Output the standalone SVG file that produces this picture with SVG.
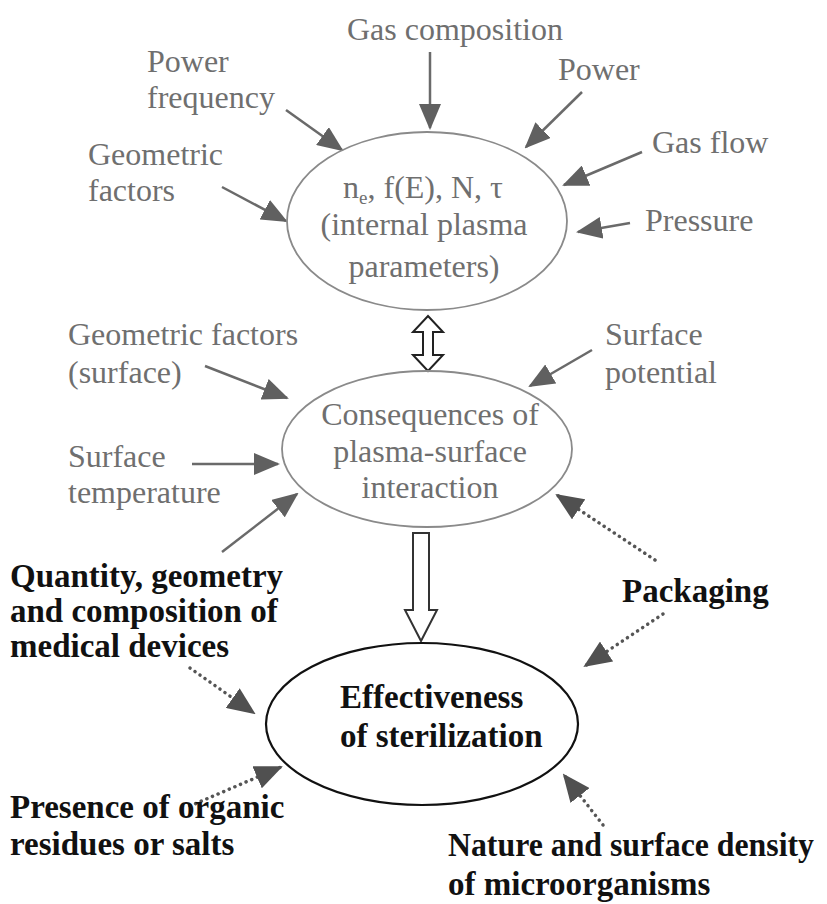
<svg xmlns="http://www.w3.org/2000/svg" width="827" height="904" viewBox="0 0 827 904">
<style>
.g{font-family:"Liberation Serif","Times New Roman",serif;font-size:32px;fill:#6f6f6f}
.b{font-family:"Liberation Serif","Times New Roman",serif;font-size:33px;font-weight:bold;fill:#111}
.ar{stroke:#6a6a6a;stroke-width:2.5;fill:none;marker-end:url(#ah)}
.dt{stroke:#555;stroke-width:3.5;fill:none;stroke-dasharray:0.1 6;stroke-linecap:round;marker-end:url(#ah2)}
</style>
<defs>
<marker id="ah" markerUnits="userSpaceOnUse" markerWidth="26" markerHeight="22" refX="24" refY="11" orient="auto"><path d="M0,0 L26,11 L0,22 Z" fill="#606060"/></marker>
<marker id="ah2" markerUnits="userSpaceOnUse" markerWidth="28" markerHeight="24" refX="26" refY="12" orient="auto"><path d="M0,0 L28,12 L0,24 Z" fill="#505050"/></marker>
</defs>
<rect width="827" height="904" fill="#fff"/>
<g id="connectors">
<line class="ar" x1="430" y1="52" x2="430" y2="128"/>
<line class="ar" x1="286" y1="110" x2="342" y2="150"/>
<line class="ar" x1="582" y1="92" x2="526" y2="147"/>
<line class="ar" x1="642" y1="152" x2="564" y2="185"/>
<line class="ar" x1="630" y1="223" x2="578" y2="232"/>
<line class="ar" x1="222" y1="187" x2="286" y2="221"/>
<line class="ar" x1="205" y1="366" x2="287" y2="398"/>
<line class="ar" x1="592" y1="350" x2="530" y2="386"/>
<line class="ar" x1="192" y1="464" x2="278" y2="464"/>
<line class="ar" x1="222" y1="552" x2="297" y2="494"/>
<line class="dt" x1="655" y1="560" x2="557" y2="495"/>
<line class="dt" x1="663" y1="614" x2="585" y2="666"/>
<line class="dt" x1="190" y1="668" x2="254" y2="713"/>
<line class="dt" x1="190" y1="806" x2="281" y2="767"/>
<line class="dt" x1="603" y1="825" x2="564" y2="775"/>
<path d="M428,316 L443,332 L433,332 L433,355 L443,355 L428,371 L413,355 L423,355 L423,332 L413,332 Z" fill="#fff" stroke="#222" stroke-width="2"/>
<path d="M413,533 L429,533 L429,610 L437,610 L421,641 L405,610 L413,610 Z" fill="#fff" stroke="#333" stroke-width="2"/>
</g>
<g id="n_top_inputs">
<text class="g" x="455" y="40" text-anchor="middle">Gas composition</text>
<text class="g" x="147" y="72">Power</text>
<text class="g" x="147" y="108">frequency</text>
<text class="g" x="558" y="80">Power</text>
<text class="g" x="652" y="153">Gas flow</text>
<text class="g" x="88" y="165">Geometric</text>
<text class="g" x="88" y="201">factors</text>
<text class="g" x="645" y="231">Pressure</text>
</g>
<g id="n_plasma">
<ellipse cx="427" cy="221" rx="140" ry="89" fill="none" stroke="#8a8a8a" stroke-width="1.8"/>
<text class="g" x="423" y="198" text-anchor="middle">n<tspan font-size="19" dy="6">e</tspan><tspan dy="-6">, f(E), N, τ</tspan></text>
<text class="g" x="424" y="235" text-anchor="middle">(internal plasma</text>
<text class="g" x="424" y="277" text-anchor="middle">parameters)</text>
</g>
<g id="n_surface_inputs">
<text class="g" x="68" y="345">Geometric factors</text>
<text class="g" x="68" y="383">(surface)</text>
<text class="g" x="605" y="345">Surface</text>
<text class="g" x="605" y="383">potential</text>
<text class="g" x="68" y="467">Surface</text>
<text class="g" x="68" y="503">temperature</text>
</g>
<g id="n_consequences">
<ellipse cx="427" cy="449" rx="145" ry="78" fill="none" stroke="#8a8a8a" stroke-width="1.8"/>
<text class="g" x="430" y="425" text-anchor="middle">Consequences of</text>
<text class="g" x="430" y="462" text-anchor="middle">plasma-surface</text>
<text class="g" x="430" y="498" text-anchor="middle">interaction</text>
</g>
<g id="n_devices">
<text class="b" x="10" y="587">Quantity, geometry</text>
<text class="b" x="10" y="622">and composition of</text>
<text class="b" x="10" y="657">medical devices</text>
</g>
<g id="n_packaging">
<text class="b" x="622" y="602">Packaging</text>
</g>
<g id="n_effectiveness">
<ellipse cx="422" cy="724" rx="156" ry="81" fill="none" stroke="#111" stroke-width="2.2"/>
<text class="b" x="340" y="708">Effectiveness</text>
<text class="b" x="340" y="747">of sterilization</text>
</g>
<g id="n_residues">
<text class="b" x="10" y="818">Presence of organic</text>
<text class="b" x="10" y="855">residues or salts</text>
</g>
<g id="n_micro">
<text class="b" x="448" y="856" textLength="366" lengthAdjust="spacingAndGlyphs">Nature and surface density</text>
<text class="b" x="448" y="895">of microorganisms</text>
</g>
</svg>
